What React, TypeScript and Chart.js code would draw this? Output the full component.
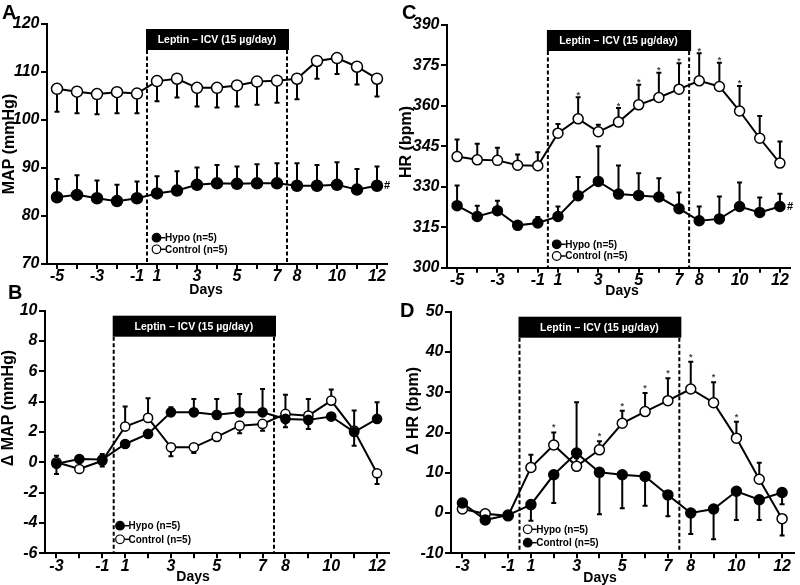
import React, { useEffect, useRef } from 'react';
import { Chart, registerables } from 'chart.js';

Chart.register(...registerables);

const FONT = '"Liberation Sans", Arial, Helvetica, sans-serif';

// ---------- categories ----------
const daysLong = ['-5', '-4', '-3', '-2', '-1', '1', '2', '3', '4', '5', '6', '7', '8', '9', '10', '11', '12'];
const daysShort = ['-3', '-2', '-1', '1', '2', '3', '4', '5', '6', '7', '8', '9', '10', '11', '12'];
const tickLabelsLong = ['-5', '-3', '-1', '1', '3', '5', '7', '8', '10', '12'];
const tickLabelsShort = ['-3', '-1', '1', '3', '5', '7', '8', '10', '12'];

// ---------- Panel A: MAP (mmHg) ----------
const mapHypo = [83.9, 84.4, 83.7, 83.1, 83.7, 84.7, 85.3, 86.5, 86.8, 86.7, 86.8, 86.8, 86.3, 86.3, 86.5, 85.5, 86.3];
const mapHypoErr = [87.7, 88.5, 87.4, 86.5, 87.2, 88.3, 89.3, 90.1, 90.6, 90.3, 90.8, 91.0, 91.0, 90.6, 91.2, 89.8, 90.3];
const mapControl = [106.5, 105.9, 105.4, 105.8, 105.5, 108.1, 108.6, 106.7, 106.7, 107.2, 108.0, 108.2, 108.6, 112.3, 112.9, 111.1, 108.6];
const mapControlErr = [101.7, 101.4, 101.2, 101.4, 101.4, 103.9, 104.7, 102.8, 102.6, 102.8, 103.2, 103.6, 104.3, 108.6, 109.6, 107.4, 104.9];

// ---------- Panel B: delta MAP (mmHg) ----------
const dMapHypo = [-0.1, 0.22, 0.18, 1.21, 1.87, 3.3, 3.3, 3.13, 3.3, 3.3, 2.86, 2.8, 3.02, 2.0, 2.86];
const dMapHypoErr = [0.44, null, 0.55, null, null, 3.63, 4.18, 4.18, 4.51, 4.84, 2.31, 2.2, null, 3.41, 3.96];
const dMapControl = [0.0, -0.44, 0.1, 2.36, 2.93, 0.99, 0.99, 1.68, 2.42, 2.53, 3.19, 3.08, 4.07, 2.09, -0.72];
const dMapControlErr = [-0.77, null, -0.28, 3.68, 4.23, 0.4, 0.62, 1.4, 1.92, 2.09, 4.45, 4.18, 4.8, 1.1, -1.43];

// ---------- Panel C: HR (bpm) ----------
const hrHypo = [323.0, 319.0, 321.1, 315.7, 316.6, 319.0, 326.7, 332.0, 327.3, 326.8, 326.2, 321.9, 317.4, 318.1, 322.7, 320.5, 322.7];
const hrHypoErr = [330.5, 323.0, 324.8, null, 318.8, 322.7, 333.6, 345.0, 337.9, 335.0, 333.2, 327.9, 322.7, 326.4, 331.6, 326.0, 327.4];
const hrControl = [341.2, 340.0, 339.8, 338.0, 337.8, 349.9, 355.2, 350.4, 354.0, 360.4, 363.1, 366.2, 369.3, 367.2, 358.1, 348.0, 338.8];
const hrControlErr = [347.5, 346.0, 344.5, 342.0, 342.8, 353.3, 363.2, 353.0, 359.2, 367.8, 372.3, 375.8, 379.5, 376.0, 367.4, 356.3, 346.8];
const hrStarDays = ['2', '4', '5', '6', '7', '8', '9', '10'];

// ---------- Panel D: delta HR (bpm) ----------
const dHrOpen = [1.0, -0.2, -0.7, 11.3, 16.9, 11.6, 15.7, 22.3, 25.2, 27.9, 30.8, 27.4, 18.6, 8.4, -1.4];
const dHrOpenErr = [null, null, null, 14.5, 20.0, 13.6, 17.8, 25.4, 29.8, 33.5, 37.6, 32.5, 22.7, 12.5, -5.6];
const dHrFilled = [2.5, -1.7, -0.5, 2.1, 9.5, 14.9, 10.1, 9.5, 9.1, 4.5, 0.0, 1.0, 5.4, 3.3, 5.1];
const dHrFilledErr = [null, null, null, -1.9, 2.5, 27.5, -0.3, 1.2, 1.8, -0.8, -5.2, -6.5, -1.7, -1.7, 2.2];
const dHrStarDays = ['2', '4', '5', '6', '7', '8', '9', '10'];

type Series = { label: string; values: number[]; err: (number | null)[]; filled: boolean };
type PanelCfg = {
  area: { l: number; t: number; r: number; b: number };
  days: string[];
  shown: string[];
  yMin: number; yMax: number; yStep: number;
  series: Series[];
  radius: number;
  letter: string; letterPos: [number, number];
  yTitle: string; yTitlePos: [number, number];
  daysPos: [number, number];
  legendPos: [number, number]; legendGap: number;
  legend: { label: string; filled: boolean }[];
  stars?: { series: number; days: string[]; gap: number };
  hash?: { series: number };
};

const panels: PanelCfg[] = [
  {
    area: { l: 47, t: 24, r: 387, b: 264 },
    days: daysLong, shown: tickLabelsLong,
    yMin: 70, yMax: 120, yStep: 10,
    series: [
      { label: 'Hypo (n=5)', values: mapHypo, err: mapHypoErr, filled: true },
      { label: 'Control (n=5)', values: mapControl, err: mapControlErr, filled: false },
    ],
    radius: 5.5,
    letter: 'A', letterPos: [2, 19],
    yTitle: 'MAP (mmHg)', yTitlePos: [9.5, 144],
    daysPos: [206, 293.5],
    legendPos: [156.5, 237.7], legendGap: 11.6,
    legend: [{ label: 'Hypo (n=5)', filled: true }, { label: 'Control (n=5)', filled: false }],
    hash: { series: 0 },
  },
  {
    area: { l: 45, t: 310.7, r: 388.5, b: 553.3 },
    days: daysShort, shown: tickLabelsShort,
    yMin: -6, yMax: 10, yStep: 2,
    series: [
      { label: 'Hypo (n=5)', values: dMapHypo, err: dMapHypoErr, filled: true },
      { label: 'Control (n=5)', values: dMapControl, err: dMapControlErr, filled: false },
    ],
    radius: 4.6,
    letter: 'B', letterPos: [8, 299],
    yTitle: 'Δ MAP (mmHg)', yTitlePos: [9, 408],
    daysPos: [193, 580.7],
    legendPos: [120, 525.7], legendGap: 13.6,
    legend: [{ label: 'Hypo (n=5)', filled: true }, { label: 'Control (n=5)', filled: false }],
  },
  {
    area: { l: 447, t: 25, r: 790, b: 267.7 },
    days: daysLong, shown: tickLabelsLong,
    yMin: 300, yMax: 390, yStep: 15,
    series: [
      { label: 'Hypo (n=5)', values: hrHypo, err: hrHypoErr, filled: true },
      { label: 'Control (n=5)', values: hrControl, err: hrControlErr, filled: false },
    ],
    radius: 5,
    letter: 'C', letterPos: [402, 19],
    yTitle: 'HR (bpm)', yTitlePos: [406.5, 142],
    daysPos: [622, 295],
    legendPos: [556.7, 244.3], legendGap: 11.7,
    legend: [{ label: 'Hypo (n=5)', filled: true }, { label: 'Control (n=5)', filled: false }],
    stars: { series: 1, days: hrStarDays, gap: 3.5 },
    hash: { series: 0 },
  },
  {
    area: { l: 451, t: 311.7, r: 797, b: 553.3 },
    days: daysShort, shown: tickLabelsShort,
    yMin: -10, yMax: 50, yStep: 10,
    series: [
      { label: 'Control (n=5)', values: dHrFilled, err: dHrFilledErr, filled: true },
      { label: 'Hypo (n=5)', values: dHrOpen, err: dHrOpenErr, filled: false },
    ],
    radius: 5,
    letter: 'D', letterPos: [400, 317],
    yTitle: 'Δ HR (bpm)', yTitlePos: [414, 411],
    daysPos: [600, 582],
    legendPos: [527.7, 529.3], legendGap: 13.4,
    legend: [{ label: 'Hypo (n=5)', filled: false }, { label: 'Control (n=5)', filled: true }],
    stars: { series: 1, days: dHrStarDays, gap: 6 },
  },
];

function decor(cfg: PanelCfg) {
  return {
    id: 'decor',
    beforeDatasetsDraw(chart: any) {
      const { ctx, chartArea } = chart;
      const xs = chart.scales.x;
      const ys = chart.scales.y;
      const px = (d: string) => xs.getPixelForValue(cfg.days.indexOf(d));
      const x1 = (px('-1') + px('1')) / 2;
      const x2 = (px('7') + px('8')) / 2;
      const bt = chartArea.top + 5;
      const bh = 21;
      ctx.save();
      // leptin band
      ctx.fillStyle = '#000';
      ctx.fillRect(x1 - 1, bt, x2 - x1 + 3, bh);
      ctx.fillStyle = '#fff';
      ctx.font = `bold 10.5px ${FONT}`;
      ctx.textAlign = 'center';
      ctx.textBaseline = 'middle';
      ctx.fillText('Leptin – ICV (15 µg/day)', (x1 + x2) / 2, bt + bh / 2 + 0.5);
      // dashed lines
      ctx.strokeStyle = '#000';
      ctx.lineWidth = 2;
      ctx.setLineDash([4, 2.5]);
      [x1, x2].forEach((x) => {
        ctx.beginPath();
        ctx.moveTo(x, bt + bh);
        ctx.lineTo(x, chartArea.bottom);
        ctx.stroke();
      });
      ctx.setLineDash([]);
      // error bars
      cfg.series.forEach((s, si) => {
        const meta = chart.getDatasetMeta(si);
        s.err.forEach((e, j) => {
          if (e === null || e === undefined) return;
          const pt = meta.data[j];
          const y1 = ys.getPixelForValue(e);
          ctx.beginPath();
          ctx.moveTo(pt.x, pt.y);
          ctx.lineTo(pt.x, y1);
          ctx.moveTo(pt.x - 2.5, y1);
          ctx.lineTo(pt.x + 2.5, y1);
          ctx.stroke();
        });
      });
      ctx.restore();
    },
    afterDatasetsDraw(chart: any) {
      const { ctx } = chart;
      const ys = chart.scales.y;
      ctx.save();
      ctx.fillStyle = '#000';
      // stars
      if (cfg.stars) {
        const st = cfg.stars;
        const meta = chart.getDatasetMeta(st.series);
        const s = cfg.series[st.series];
        ctx.font = `bold 9px ${FONT}`;
        ctx.fillStyle = '#444';
        ctx.textAlign = 'center';
        ctx.textBaseline = 'middle';
        st.days.forEach((d) => {
          const j = cfg.days.indexOf(d);
          const e = s.err[j];
          const top = e === null ? meta.data[j].y : ys.getPixelForValue(e);
          ctx.fillText('*', meta.data[j].x, top - st.gap + 1.5);
        });
        ctx.fillStyle = '#000';
      }
      // hash
      if (cfg.hash) {
        const meta = chart.getDatasetMeta(cfg.hash.series);
        const last = meta.data[meta.data.length - 1];
        ctx.font = `bold 11px ${FONT}`;
        ctx.textAlign = 'left';
        ctx.textBaseline = 'middle';
        ctx.fillText('#', last.x + 7, last.y);
      }
      // legend
      const [lx, ly] = cfg.legendPos;
      cfg.legend.forEach((it, i) => {
        const y = ly + i * cfg.legendGap;
        ctx.strokeStyle = '#000';
        ctx.lineWidth = 1.5;
        ctx.beginPath();
        ctx.moveTo(lx, y);
        ctx.lineTo(lx + 9, y);
        ctx.stroke();
        ctx.beginPath();
        ctx.arc(lx, y, 4.3, 0, Math.PI * 2);
        ctx.fillStyle = it.filled ? '#000' : '#fff';
        ctx.fill();
        ctx.lineWidth = 1.2;
        ctx.stroke();
        ctx.fillStyle = '#000';
        ctx.font = `bold 10px ${FONT}`;
        ctx.textAlign = 'left';
        ctx.textBaseline = 'middle';
        ctx.fillText(it.label, lx + 8.5, y + 0.5);
      });
      // panel letter
      ctx.font = `bold 20px ${FONT}`;
      ctx.textAlign = 'left';
      ctx.textBaseline = 'alphabetic';
      ctx.fillText(cfg.letter, cfg.letterPos[0], cfg.letterPos[1]);
      // x title
      ctx.font = `bold 14px ${FONT}`;
      ctx.textAlign = 'center';
      ctx.fillText('Days', cfg.daysPos[0], cfg.daysPos[1]);
      // y title
      ctx.save();
      ctx.translate(cfg.yTitlePos[0], cfg.yTitlePos[1]);
      ctx.rotate(-Math.PI / 2);
      ctx.font = `bold 16px ${FONT}`;
      ctx.textAlign = 'center';
      ctx.textBaseline = 'middle';
      ctx.fillText(cfg.yTitle, 0, 0);
      ctx.restore();
      ctx.restore();
    },
  };
}

function buildConfig(cfg: PanelCfg): any {
  const W = 800;
  const H = 585;
  const tickFont = { family: FONT, size: 16, style: 'italic' as const, weight: 'bold' as const, lineHeight: 1 };
  return {
    type: 'line',
    data: {
      labels: cfg.days,
      datasets: cfg.series.map((s, i) => ({
        label: s.label,
        data: s.values,
        borderColor: '#000',
        borderWidth: 2,
        pointRadius: cfg.radius,
        pointHoverRadius: cfg.radius,
        pointBackgroundColor: s.filled ? '#000' : '#fff',
        pointBorderColor: '#000',
        pointBorderWidth: 1.5,
        tension: 0,
        order: i,
        clip: false,
      })),
    },
    options: {
      responsive: false,
      maintainAspectRatio: false,
      devicePixelRatio: 1,
      animation: false,
      events: [],
      layout: { padding: { left: 0, top: cfg.area.t, right: W - cfg.area.r, bottom: 0 } },
      plugins: { legend: { display: false }, tooltip: { enabled: false }, title: { display: false } },
      scales: {
        x: {
          type: 'category',
          offset: true,
          grid: { offset: false, drawOnChartArea: false, drawTicks: true, tickLength: 5, color: '#000', lineWidth: 2 },
          border: { display: true, color: '#000', width: 2 },
          ticks: {
            autoSkip: false,
            maxRotation: 0,
            minRotation: 0,
            padding: 0,
            color: '#000',
            font: tickFont,
            callback: (v: any) => {
              const d = cfg.days[v as number];
              return cfg.shown.includes(d) ? d : '';
            },
          },
          afterFit: (s: any) => { s.height = H - cfg.area.b; },
        },
        y: {
          type: 'linear',
          min: cfg.yMin,
          max: cfg.yMax,
          grid: { drawOnChartArea: false, drawTicks: true, tickLength: 6, color: '#000', lineWidth: 2 },
          border: { display: true, color: '#000', width: 2 },
          ticks: { stepSize: cfg.yStep, padding: 1.5, color: '#000', font: tickFont },
          afterFit: (s: any) => { s.width = cfg.area.l; },
        },
      },
    },
    plugins: [decor(cfg)],
  };
}

function Panel({ cfg }: { cfg: PanelCfg }) {
  const ref = useRef<HTMLCanvasElement>(null);
  useEffect(() => {
    const chart = new Chart(ref.current as HTMLCanvasElement, buildConfig(cfg));
    return () => chart.destroy();
  }, [cfg]);
  return (
    <canvas
      ref={ref}
      width={800}
      height={585}
      style={{ position: 'absolute', left: 0, top: 0, width: 800, height: 585 }}
    />
  );
}

export default function App() {
  return (
    <div style={{ position: 'absolute', left: 0, top: 0, width: 800, height: 585, background: '#fff', overflow: 'hidden' }}>
      {panels.map((p, i) => (
        <Panel key={i} cfg={p} />
      ))}
    </div>
  );
}
